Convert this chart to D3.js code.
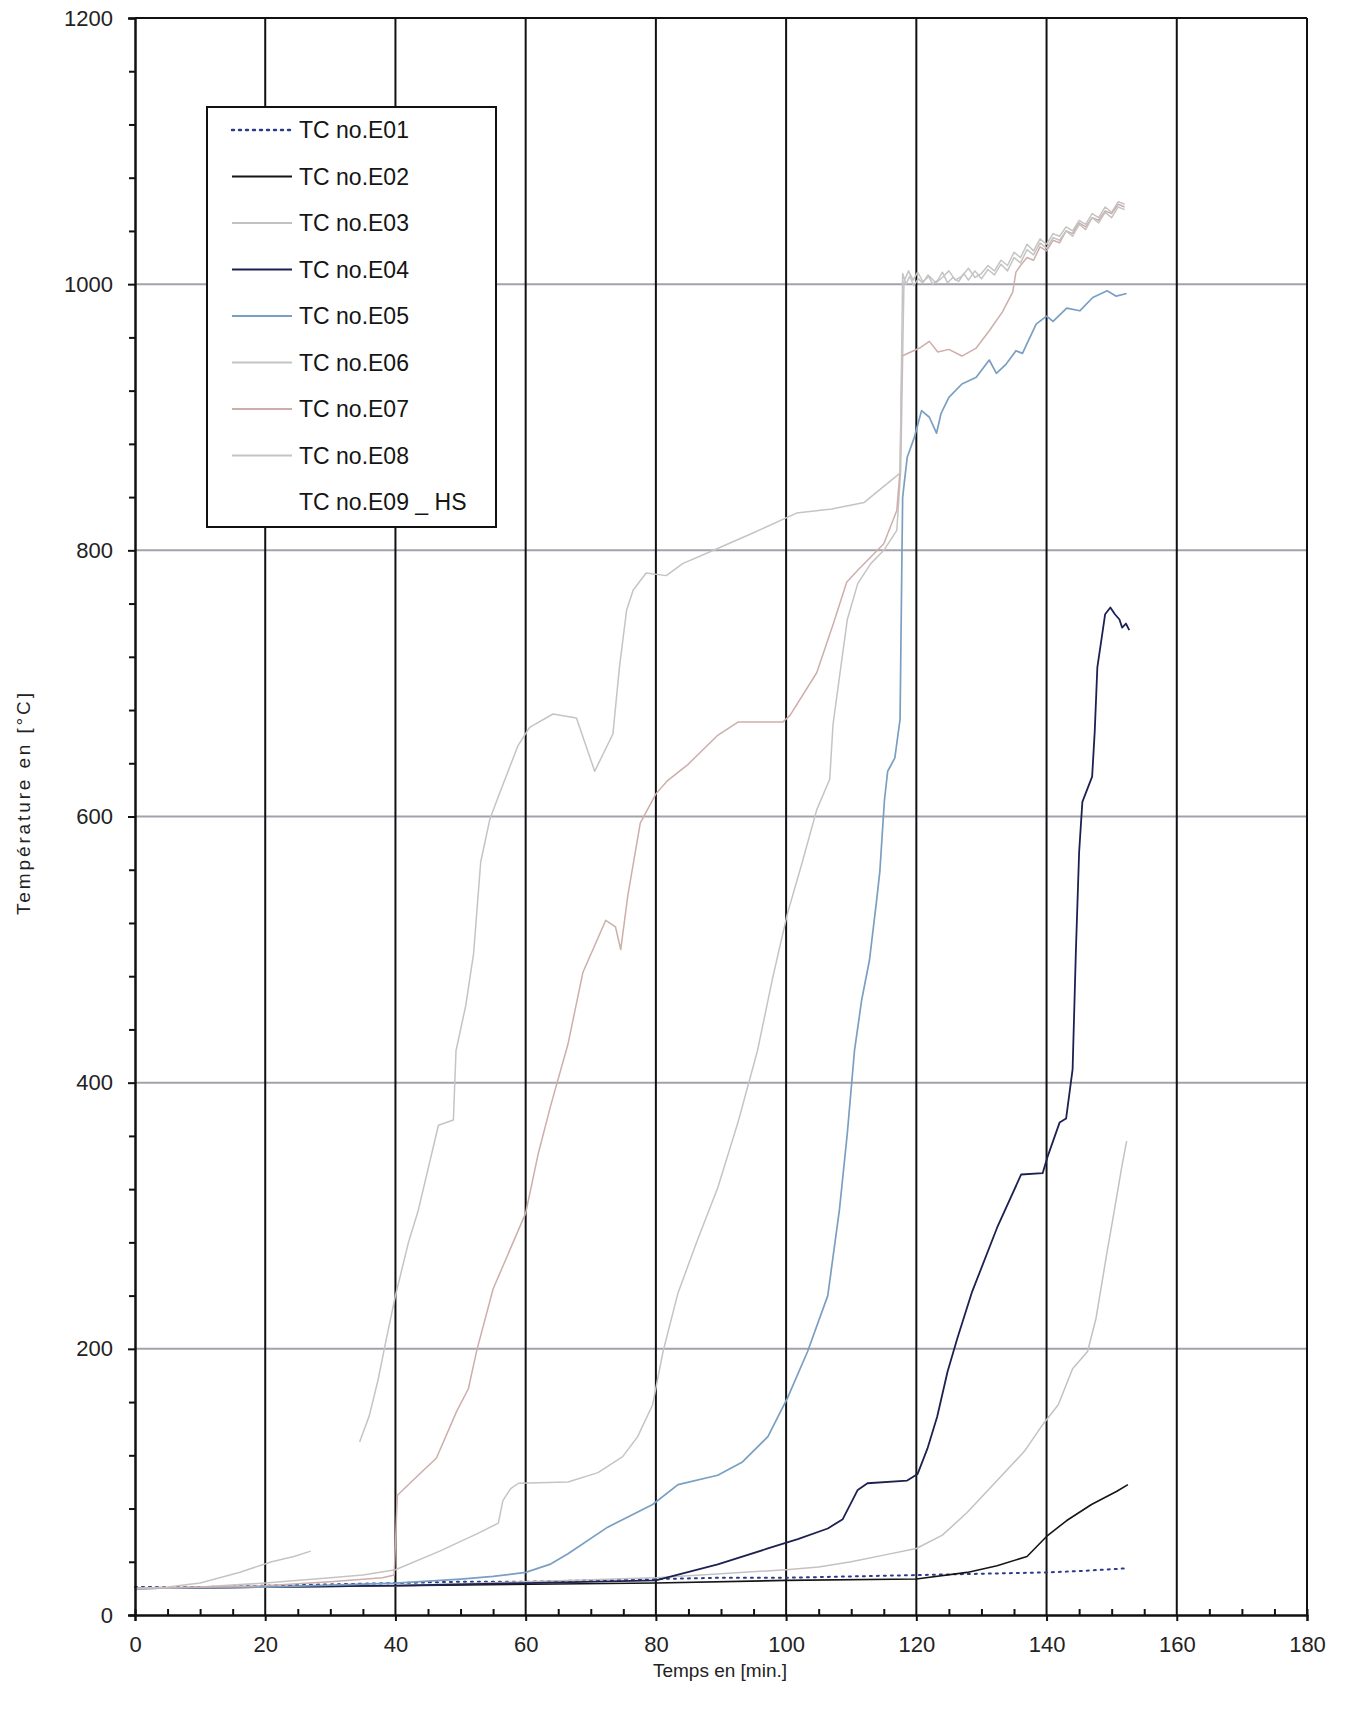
<!DOCTYPE html>
<html><head><meta charset="utf-8">
<script src="https://cdn.jsdelivr.net/npm/d3@7/dist/d3.min.js"></script>
<style>body{margin:0;background:#fff}svg{display:block}text{font-family:"Liberation Sans",Arial,sans-serif}</style>
</head><body>
<svg id="c" width="1345" height="1712"></svg>
<script>
const seriesNames = ["TC no.E01","TC no.E02","TC no.E03","TC no.E04","TC no.E05","TC no.E06","TC no.E07","TC no.E08","TC no.E09 _ HS"];
const xTicks = [0,20,40,60,80,100,120,140,160,180];
const yTicks = [0,200,400,600,800,1000,1200];

const e01T = [0,10,20,30,40,50,60,70,80,90,100,110,120,130,140,145,152];
const e01V = [21,21,22,23,24,25,25,26,27,28,28,29,30,31,32,33,35];

const e02T = [0,40,80,100,120,127.8,132.4,137,140,143.1,146.9,150.8,152.5];
const e02V = [20,22,24,26,27,32,37,44,59,71,83,93,98];

const e03T = [0,40,60,80,90,100,105,110,115,120,124,127.8,132.4,136.6,139.4,141.8,144,146.3,147.6,149.3,150.2,151.6,152.3];
const e03V = [20,22,25,28,31,34,36,40,45,50,60,77,101,123,143,158,185,198,223,273,298,338,356];

const e04T = [0,40,60,80,89.5,97.2,101.8,106.4,108.7,111,112.5,118.6,120.2,121.7,123.2,124.8,126.3,128.5,132.4,136.1,139.4,140.2,142,143,144,144.5,145,145.5,147,147.4,147.8,149,149.8,150.5,151.2,151.6,152.2,152.7];
const e04V = [20,22,24,26,38,50,57,65,72,94,99,101,106,125,149,183,208,242,291,331,332,345,370,373,410,498,573,611,630,664,712,752,757,752,748,742,745,740];

const e05T = [0,20,40,50,55,60,63.7,66.5,72.6,79.5,83.4,89.5,93.3,97.2,100.2,103.3,106.4,108.2,109.4,110.5,111.6,112.8,113.9,114.4,115.1,115.6,116.7,117.5,117.8,117.9,118.6,119.7,120.8,122,123.1,123.8,125,127,129.2,131.2,132.3,133.8,135.3,136.3,138.4,140,141,143.1,145.1,147.1,149.3,150.7,152.3];
const e05V = [20,21,24,27,29,32,38,46,66,83,98,105,115,134,163,198,240,305,362,424,462,492,537,559,612,634,644,673,800,840,870,885,905,900,888,903,915,925,930,943,933,940,950,948,970,976,972,982,980,990,995,991,993];

const e06T = [0,10,20,30,35,40,46.8,52.5,55.8,56.5,57.7,58.9,66.5,71.1,74.9,77.2,79.5,81.1,83.4,86.4,89.5,92.6,95.6,97.9,100.2,102.5,104.7,106.7,107.2,108.7,109.4,111,113,115,117,117.6,118.1,118.8,119.5,120.2,121,122,123,124,125,126,127,128,129,130,131,132,133,134,135,136,137,138,139,140,141,142,143,144,145,146,147,148,149,150,151,152];
const e06V = [20,21,24,28,30,34,48,61,69,86,95,99,100,107,119,134,158,198,242,282,321,370,424,478,527,566,605,628,669,723,748,775,790,800,815,860,1002,1010,1003,1009,1002,1006,1001,1005,1010,1003,1006,1012,1005,1008,1014,1010,1018,1014,1024,1020,1030,1025,1034,1030,1038,1036,1043,1040,1048,1045,1053,1050,1058,1054,1062,1060];

const e07T = [0,20,30,38,39.8,40.3,43.5,46.3,49.4,51.2,52.5,55,60,61.9,63.8,66.5,68.8,72.3,73.8,74.6,75.7,77.6,80,81.8,84.9,89.5,92.6,99.5,100.6,104.7,107.2,109.3,111,113,115,117,117.5,117.8,120.5,122,123.3,125,127,129.2,131.2,133.2,134.8,135.3,136,137,138,139,140,141,142,143,144,145,146,147,148,149,150,151,152];
const e07V = [20,22,25,28,30,90,105,118,153,170,199,245,302,346,382,429,483,522,517,500,541,595,617,627,639,661,671,671,676,708,744,776,785,795,805,830,860,946,952,957,949,951,946,952,965,979,994,1009,1014,1020,1018,1028,1025,1033,1031,1040,1038,1046,1043,1050,1048,1055,1053,1060,1058];

const e08T = [0,5,10,13,16,21,24.4,27,27.1,34.4,34.5,36,37.3,38.5,40,42,43.5,46.6,48.9,49.3,50.8,52,53.1,54.5,55.8,58.8,60.6,64.2,67.8,70.6,73.4,74.4,75.5,76.5,78.5,81.6,84.1,89.3,94.9,101.6,107,112,115,117.5,117.9,118.4,119,119.6,120.3,121,121.8,122.5,123.3,124,124.8,125.6,126.5,127.3,128,129,130,131,132,133,134,135,136,137,138,139,140,141,142,143,144,145,146,147,148,149,150,151,152];
const e08V = [20,21,24,28,32,40,44,48,null,null,130,150,176,205,240,280,304,368,372,424,458,497,566,598,615,653,667,677,674,634,662,712,755,770,783,781,790,801,813,828,831,836,848,858,1008,1000,1006,999,1004,1001,1007,1000,1003,1009,1001,1005,1002,1008,1003,1010,1004,1011,1007,1015,1010,1020,1016,1026,1022,1031,1027,1035,1033,1040,1036,1045,1041,1050,1046,1054,1050,1058,1056];

const seriesData = [
  {t:e01T,v:e01V,color:"#2a3a8c",w:2,dash:"2,5"},
  {t:e02T,v:e02V,color:"#151515",w:1.6,dash:null},
  {t:e03T,v:e03V,color:"#c2c2c2",w:1.5,dash:null},
  {t:e04T,v:e04V,color:"#1c2150",w:1.8,dash:null},
  {t:e05T,v:e05V,color:"#7a9fc2",w:1.7,dash:null},
  {t:e06T,v:e06V,color:"#c6c3c3",w:1.5,dash:null},
  {t:e07T,v:e07V,color:"#cdaeaa",w:1.5,dash:null},
  {t:e08T,v:e08V,color:"#c4c4c4",w:1.5,dash:null},
  null
];

const svg = d3.select("#c");
const X0=135, X1=1307, Y0=1615, Y1=18;
const x = d3.scaleLinear().domain([0,180]).range([X0,X1]);
const y = d3.scaleLinear().domain([0,1200]).range([Y0,Y1]);

// horizontal grid
svg.append("g").selectAll("line").data(yTicks.filter(d=>d>0&&d<1200)).join("line")
  .attr("x1",X0).attr("x2",X1).attr("y1",d=>y(d)).attr("y2",d=>y(d))
  .attr("stroke","#a2a2ac").attr("stroke-width",2);
// vertical grid
svg.append("g").selectAll("line").data(xTicks.filter(d=>d>0)).join("line")
  .attr("x1",d=>x(d)).attr("x2",d=>x(d)).attr("y1",Y1).attr("y2",Y0)
  .attr("stroke","#111").attr("stroke-width",2);
// top border
svg.append("line").attr("x1",X0).attr("x2",X1).attr("y1",Y1).attr("y2",Y1).attr("stroke","#111").attr("stroke-width",2);

// series lines
const line = d3.line().defined(d=>d[1]!=null).x(d=>x(d[0])).y(d=>y(d[1]));
seriesData.forEach(s=>{
  if(!s) return;
  const pts = s.t.map((t,i)=>[t,s.v[i]]);
  const p = svg.append("path").attr("d",line(pts)).attr("fill","none")
    .attr("stroke",s.color).attr("stroke-width",s.w).attr("stroke-linejoin","round");
  if(s.dash) p.attr("stroke-dasharray",s.dash).attr("stroke-linecap","round");
});

// axes
const yAxis = svg.append("g").attr("transform",`translate(${X0},0)`)
  .call(d3.axisLeft(y).tickValues(yTicks).tickSize(7).tickPadding(15).tickFormat(d3.format("d")));
const yMinor = svg.append("g").attr("transform",`translate(${X0},0)`)
  .call(d3.axisLeft(y).tickValues(d3.range(40,1200,40).filter(d=>d%200!==0)).tickSize(6).tickFormat(""));
const xAxis = svg.append("g").attr("transform",`translate(0,${Y0})`)
  .call(d3.axisBottom(x).tickValues(xTicks).tickSize(6).tickPadding(10).tickFormat(d3.format("d")));
const xMinor = svg.append("g").attr("transform",`translate(0,${Y0})`)
  .call(d3.axisBottom(x).tickValues(d3.range(5,180,5).filter(d=>d%20!==0)).tickSize(-6).tickFormat(""));
[yAxis,yMinor,xAxis,xMinor].forEach(g=>{
  g.select(".domain").attr("stroke","#111").attr("stroke-width",2);
  g.selectAll(".tick line").attr("stroke","#111").attr("stroke-width",2);
  g.selectAll("text").attr("font-size",22).attr("fill","#222").attr("font-family","Liberation Sans, Arial, sans-serif");
});
xAxis.selectAll("text").attr("dy","0.95em");
// right border
svg.append("line").attr("x1",X1).attr("x2",X1).attr("y1",Y1).attr("y2",Y0).attr("stroke","#111").attr("stroke-width",2);

// axis titles
svg.append("text").attr("x",720).attr("y",1677).attr("text-anchor","middle")
  .attr("font-size",19).attr("fill","#222").text("Temps en [min.]");
svg.append("text").attr("transform","translate(30,804) rotate(-90)").attr("text-anchor","middle")
  .attr("font-size",19).attr("fill","#222").attr("textLength",222).attr("lengthAdjust","spacing")
  .text("Température  en [°C]");

// legend
const lg = svg.append("g");
lg.append("rect").attr("x",207).attr("y",107).attr("width",289).attr("height",420)
  .attr("fill","#fff").attr("stroke","#111").attr("stroke-width",2);
seriesNames.forEach((n,i)=>{
  const yy = 130 + i*46.5;
  const s = seriesData[i];
  if(s){
    const l = lg.append("line").attr("x1",232).attr("x2",292).attr("y1",yy).attr("y2",yy)
      .attr("stroke",s.color).attr("stroke-width",s.w+0.4);
    if(s.dash) l.attr("stroke-dasharray",s.dash).attr("stroke-linecap","round");
  }
  lg.append("text").attr("x",299).attr("y",yy).attr("dy","0.36em")
    .attr("font-size",23).attr("fill","#151515").text(n);
});
</script>
</body></html>
